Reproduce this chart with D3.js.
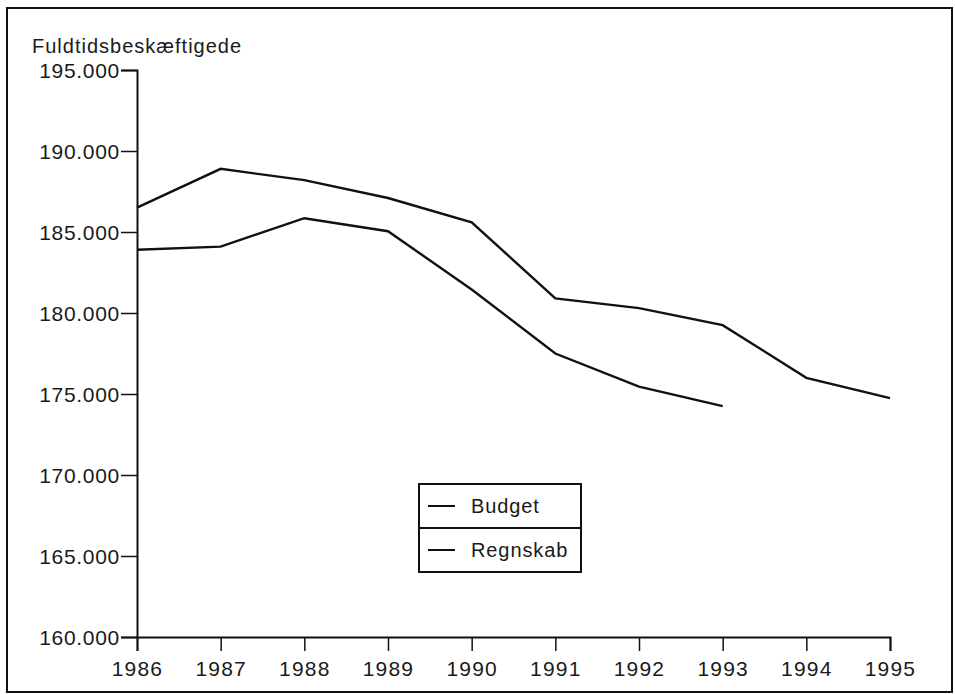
<!DOCTYPE html>
<html>
<head>
<meta charset="utf-8">
<script src="https://cdn.jsdelivr.net/npm/d3@7"></script>
<style>
  body { margin: 0; background: #fff; }
  svg text { font-family: "Liberation Sans", Arial, sans-serif; fill: #1a1a1a; }
</style>
</head>
<body>
<div id="chart"></div>
<script>
var years = [1986, 1987, 1988, 1989, 1990, 1991, 1992, 1993, 1994, 1995];
var budget = [186500, 188900, 188200, 187100, 185600, 180900, 180300, 179250, 176000, 174750];
var regnskab = [183900, 184100, 185850, 185050, 181450, 177500, 175450, 174250];
var yTicks = [160000, 165000, 170000, 175000, 180000, 185000, 190000, 195000];
var seriesNames = ["Budget", "Regnskab"];

function init() {
    var w = 955, h = 694;
    var svg = d3.select("#chart").append("svg")
        .attr("width", w)
        .attr("height", h);

    // outer frame
    svg.append("rect")
        .attr("x", 7).attr("y", 8)
        .attr("width", 945).attr("height", 684)
        .attr("fill", "none")
        .attr("stroke", "#111")
        .attr("stroke-width", 2);

    var xScale = d3.scaleLinear().domain([1986, 1995]).range([137, 890]);
    var yScale = d3.scaleLinear().domain([160000, 195000]).range([637, 70]);

    var fmt = function(d) { return d3.format(",")(d).replace(/,/g, "."); };

    var yAxis = svg.append("g")
        .attr("transform", "translate(137,0)")
        .call(d3.axisLeft(yScale).tickValues(yTicks).tickSize(16).tickPadding(1).tickFormat(fmt));
    yAxis.select(".domain").attr("stroke", "#111").attr("stroke-width", 2);
    yAxis.selectAll(".tick line").attr("stroke", "#111").attr("stroke-width", 1.5);
    yAxis.selectAll("text")
        .style("font-size", "21px")
        .style("letter-spacing", "0.7px")
        .attr("fill", "#1a1a1a")
        .attr("dy", "0.36em");

    var xAxis = svg.append("g")
        .attr("transform", "translate(0,637)")
        .call(d3.axisBottom(xScale).tickValues(years).tickSize(14).tickPadding(10).tickFormat(d3.format("d")));
    xAxis.select(".domain").attr("stroke", "#111").attr("stroke-width", 2);
    xAxis.selectAll(".tick line").attr("stroke", "#111").attr("stroke-width", 1.5);
    xAxis.selectAll("text")
        .style("font-size", "21px")
        .style("letter-spacing", "1.2px")
        .attr("fill", "#1a1a1a");

    // axis title
    svg.append("text")
        .attr("x", 32).attr("y", 53)
        .style("font-size", "20px")
        .style("letter-spacing", "1px")
        .text("Fuldtidsbeskæftigede");

    var line = d3.line()
        .x(function(d, i) { return xScale(years[i]); })
        .y(function(d) { return yScale(d); });

    [budget, regnskab].forEach(function(s) {
        svg.append("path")
            .datum(s)
            .attr("d", line)
            .attr("fill", "none")
            .attr("stroke", "#111")
            .attr("stroke-width", 2.4)
            .attr("stroke-linejoin", "miter");
    });

    // legend
    var lg = svg.append("g").attr("transform", "translate(419,484)");
    lg.append("rect")
        .attr("width", 162).attr("height", 88)
        .attr("fill", "#fff")
        .attr("stroke", "#111").attr("stroke-width", 2);
    lg.append("line")
        .attr("x1", 0).attr("x2", 162)
        .attr("y1", 44).attr("y2", 44)
        .attr("stroke", "#111").attr("stroke-width", 2);
    var item = lg.selectAll(".item")
        .data(seriesNames)
        .enter().append("g")
        .attr("transform", function(d, i) { return "translate(0," + (22 + i * 44) + ")"; });
    item.append("line")
        .attr("x1", 9).attr("x2", 36)
        .attr("stroke", "#111").attr("stroke-width", 2);
    item.append("text")
        .attr("x", 52).attr("dy", "0.35em")
        .style("font-size", "20px")
        .style("letter-spacing", "0.9px")
        .text(function(d) { return d; });
}

window.onload = init;
</script>
</body>
</html>
